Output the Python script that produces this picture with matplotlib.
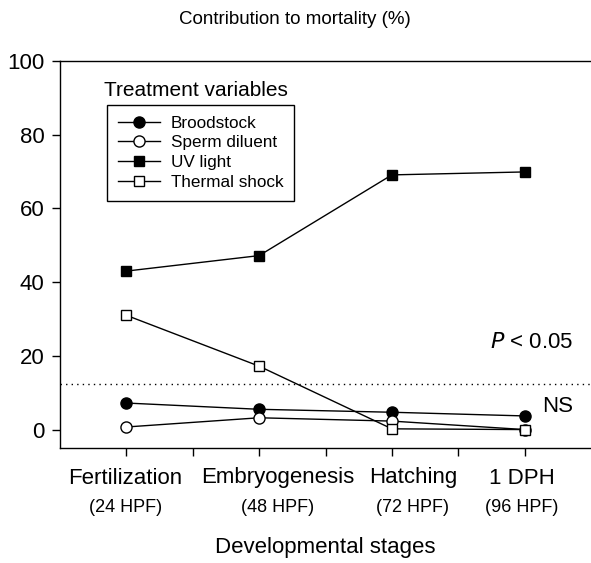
import matplotlib
matplotlib.use("Agg")
import matplotlib.pyplot as plt

plt.rcParams['font.family'] = ['Liberation Sans', 'DejaVu Sans']

stages = ["Fertilization", "Embryogenesis", "Hatching", "1 DPH"]
hpf = ["(24 HPF)", "(48 HPF)", "(72 HPF)", "(96 HPF)"]
broodstock = [7.2, 5.5, 4.7, 3.7]
sperm_diluent = [0.7, 3.2, 2.3, 0.0]
uv_light = [43, 47.2, 69.1, 69.9]
thermal_shock = [31, 17.2, 0.2, 0.0]
threshold = 12.3

W, H = 591, 563
fig = plt.figure(figsize=(W/100, H/100), dpi=100)
ax = fig.add_axes([60/W, (H-448)/H, (W-60)/W, (448-61)/H])

x = list(range(len(stages)))
l1, = ax.plot(x, broodstock, '-', color='black', lw=1, marker='o', ms=8,
              mfc='black', mec='black', label='Broodstock', zorder=3)
l2, = ax.plot(x, sperm_diluent, '-', color='black', lw=1, marker='o', ms=8,
              mfc='white', mec='black', label='Sperm diluent', zorder=3)
l3, = ax.plot(x, uv_light, '-', color='black', lw=1, marker='s', ms=7.2,
              mfc='black', mec='black', label='UV light', zorder=3)
l4, = ax.plot(x, thermal_shock, '-', color='black', lw=1, marker='s', ms=7.2,
              mfc='white', mec='black', label='Thermal shock', zorder=3)

ax.axhline(threshold, color='black', lw=1, ls=(0, (1, 3)), zorder=1)

ax.set_xlim(-0.5, 3.5)
ax.set_ylim(-5, 100)
ax.set_yticks([0, 20, 40, 60, 80, 100])
ax.set_xticks([-0.5 + 0.5 * i for i in range(1, 8)])
ax.set_xticklabels([])
ax.tick_params(axis='both', direction='out', length=6, width=1, labelsize=16)
ax.tick_params(axis='y', pad=5)
ax.spines['right'].set_visible(False)
for s in ['left', 'bottom', 'top']:
    ax.spines[s].set_linewidth(1)

# category labels (offset placement as in the original figure)
label_x = [125.5, 277.5, 413, 522]
for lx, s, h in zip(label_x, stages, hpf):
    fig.text(lx/W, 1 - 478/H, s, ha='center', va='center', fontsize=16)
    fig.text(lx/W, 1 - 508/H, h, ha='center', va='center', fontsize=13)

fig.text(325/W, 1 - 547/H, "Developmental stages", ha='center', va='center', fontsize=16)
fig.text(295/W, 1 - 20/H, "Contribution to mortality (%)", ha='center', va='center', fontsize=13.5)

fig.text(104/W, 1 - 90/H, "Treatment variables", ha='left', va='center', fontsize=15)
leg = ax.legend(handles=[l1, l2, l3, l4], loc='upper left',
                bbox_to_anchor=(107/W, 1 - 105/H), bbox_transform=fig.transFigure,
                frameon=True, fancybox=False, edgecolor='black', fontsize=12.3,
                handlelength=2.5, handletextpad=0.6, labelspacing=0.28,
                borderpad=0.62, borderaxespad=0, markerscale=1.0)
leg.get_frame().set_linewidth(1)
leg.get_frame().set_alpha(None)
leg.get_frame().set_facecolor('white')

fig.text(573/W, 1 - 342/H, r"$\it{P}$ < 0.05", ha='right', va='center', fontsize=16)
fig.text(573/W, 1 - 407/H, "NS", ha='right', va='center', fontsize=16)

fig.savefig("out.png", dpi=100)
